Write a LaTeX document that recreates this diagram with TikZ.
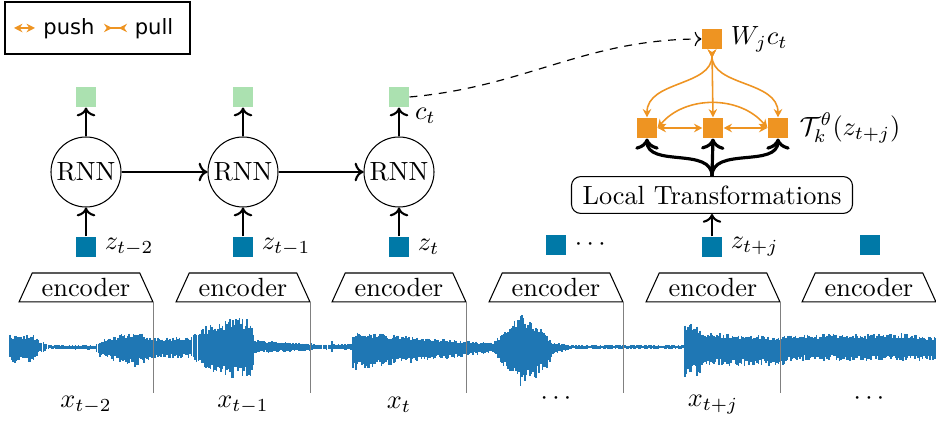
\documentclass[tikz,border=0pt]{standalone}
\usepackage{fontspec}
\newfontfamily\legfont{DejaVu Sans}
\usetikzlibrary{shapes.geometric,arrows.meta}
\definecolor{orng}{RGB}{238,148,34}
\definecolor{cgreen}{RGB}{171,225,176}
\definecolor{zblue}{RGB}{0,121,167}
\definecolor{wblue}{RGB}{31,119,180}
\begin{document}
\begin{tikzpicture}[x=0.38pt,y=-0.38pt,
  sq/.style={minimum size=7.6pt, inner sep=0pt, draw=none},
  zsq/.style={sq, fill=zblue},
  csq/.style={sq, fill=cgreen},
  osq/.style={sq, fill=orng},
  rnn/.style={circle, draw, minimum size=26.6pt, inner sep=0pt},
  enc/.style={trapezium, draw, trapezium left angle=61, trapezium right angle=61,
    minimum width=50.9pt, minimum height=11pt, inner xsep=2pt, inner ysep=1pt,
    trapezium stretches body},
  lbl/.style={anchor=west, inner sep=0pt},
  blk/.style={->, thick},
  blkb/.style={->, line width=1.2pt},
  otip/.tip={Stealth[length=3.2pt,width=3.2pt]},
  pusharr/.style={orng, line width=0.6pt, {otip}-{otip}},
  pullarr/.style={orng, line width=0.6pt, {otip[reversed]}-{otip[reversed]}},
  wtarr/.style={orng, line width=0.6pt, {otip[reversed]}-{otip}},
  sepline/.style={gray, line width=0.5pt},
  wave/.style={wblue, line width=0.6pt},
  legtext/.style={inner sep=0pt, font=\legfont\fontsize{8}{10}\selectfont}
]
\useasboundingbox (0,0) rectangle (936,423);

% waveform
\pgfmathsetseed{7}
\foreach \x/\u/\d [remember=\x as \px (initially 10), remember=\u as \pu (initially 12), remember=\d as \pd (initially 15)] in
 {10/13/16, 32/13/16, 40/6/6, 50/2/2, 95/2/3, 100/7/10, 135/17/21, 147/12/15, 155/10/11, 190/10/11,
  200/19/20, 230/29/32, 252/29/32, 255/7/6, 290/5/5, 320/3/3, 330/3/3, 332/9/7, 334/3/3, 351/3/3,
  353/15/23, 380/14/21, 420/10/16, 465/6/10, 493/5/6, 522/35/42, 547/12/23, 553/5/8, 570/2/2,
  640/2/2, 683/2/2, 685/23/31, 700/22/30, 702/15/21, 737/13/20, 780/11/19, 800/13/14, 903/14/14, 936/11/14} {
  \pgfmathtruncatemacro{\n}{max(1,(\x-\px)/1.5)}
  \foreach \k in {1,...,\n} {
    \pgfmathsetmacro{\xx}{\px+(\x-\px)*\k/\n}
    \pgfmathsetmacro{\uu}{(\pu+(\u-\pu)*\k/\n)*(0.6+0.4*rnd)}
    \pgfmathsetmacro{\dd}{(\pd+(\d-\pd)*\k/\n)*(0.6+0.4*rnd)}
    \draw[wave] (\xx,347-\uu) -- (\xx,347+\dd);
  }
}

% legend
\node[draw, line width=0.45pt, minimum width=70.3pt, minimum height=19.8pt, inner sep=0pt] (legend) at (97.5,28) {};
\coordinate (pa1) at (14,28); \coordinate (pa2) at (35,28);
\coordinate (pb1) at (104,28); \coordinate (pb2) at (127,28);
\draw[pusharr] (pa1) -- (pa2);
\draw[pullarr] (pb1) -- (pb2);
\node[legtext] (tpush) at (69,28.5) {push};
\node[legtext] (tpull) at (154,28.5) {pull};

% encoders
\foreach \i/\xc in {1/86,2/243,3/399,4/556,5/713,6/869} {
  \node[enc] (enc\i) at (\xc,287.5) {encoder};
}
\foreach \i in {1,...,5} {
  \draw[sepline] (enc\i.bottom right corner) -- ++(0,91);
}

% x labels
\node (x1) at (86,405) {$x_{t-2}$};
\node (x2) at (243,405) {$x_{t-1}$};
\node (x3) at (399,405) {$x_{t}$};
\node (x4) at (556,399) {$\cdots$};
\node (x5) at (713,405) {$x_{t+j}$};
\node (x6) at (869,399) {$\cdots$};

% z squares
\node[zsq] (z1) at (86,247) {};
\node[zsq] (z2) at (243,247) {};
\node[zsq] (z3) at (399,247) {};
\node[zsq] (z4) at (556,245) {};
\node[zsq] (z5) at (712,247) {};
\node[zsq] (z6) at (870,245) {};
\node[lbl] (lz1) at ([xshift=3]z1.east) {$z_{t-2}$};
\node[lbl] (lz2) at ([xshift=3]z2.east) {$z_{t-1}$};
\node[lbl] (lz3) at ([xshift=3]z3.east) {$z_{t}$};
\node[lbl] (lz4) at ([xshift=3]z4.east) {$\cdots$};
\node[lbl] (lz5) at ([xshift=3]z5.east) {$z_{t+j}$};

% RNNs
\node[rnn] (r1) at (86,172) {RNN};
\node[rnn] (r2) at (243,172) {RNN};
\node[rnn] (r3) at (399,172) {RNN};
\node[csq] (c1) at (86,97) {};
\node[csq] (c2) at (243,97) {};
\node[csq] (c3) at (399,97) {};
\node[lbl] (lc) at ([shift={(5,19)}]c3.east) {$c_t$};

\foreach \i in {1,2,3} {
  \draw[blk] (z\i) -- (r\i);
  \draw[blk] (r\i) -- (c\i);
}
\draw[blk] (r1) -- (r2);
\draw[blk] (r2) -- (r3);

% right part
\node[draw, rounded corners=3.5pt, minimum width=106.8pt, minimum height=14pt, inner sep=1pt] (lt) at (712,195) {Local Transformations};
\draw[blk] (z5) -- (lt);

\node[osq] (w) at (712,39) {};
\node[lbl] (lw) at ([xshift=3]w.east) {$W_j c_t$};
\node[osq] (t1) at (647,128) {};
\node[osq] (t2) at (713,128) {};
\node[osq] (t3) at (778,128) {};
\node[lbl] (lt3) at ([xshift=4]t3.east) {$\mathcal{T}_k^{\theta}(z_{t+j})$};

\draw[blkb] (lt.north) to[out=90,in=-90] (t1.south);
\draw[blkb] (lt.north) -- (t2.south);
\draw[blkb] (lt.north) to[out=90,in=-90] (t3.south);

\draw[wtarr] (w.south) to[out=-90,in=90] (t1.north);
\draw[wtarr] (w.south) -- (t2.north);
\draw[wtarr] (w.south) to[out=-90,in=90] (t3.north);
\draw[pusharr] ([yshift=-4]t1.north east) to[out=50,in=130] ([yshift=-4]t3.north west);
\draw[pusharr] (t1) -- (t2);
\draw[pusharr] (t2) -- (t3);

\draw[->, dashed, dash pattern=on 3pt off 2.6pt, line width=0.45pt] (c3.east) to[out=5,in=180] (w.west);
\end{tikzpicture}
\end{document}
